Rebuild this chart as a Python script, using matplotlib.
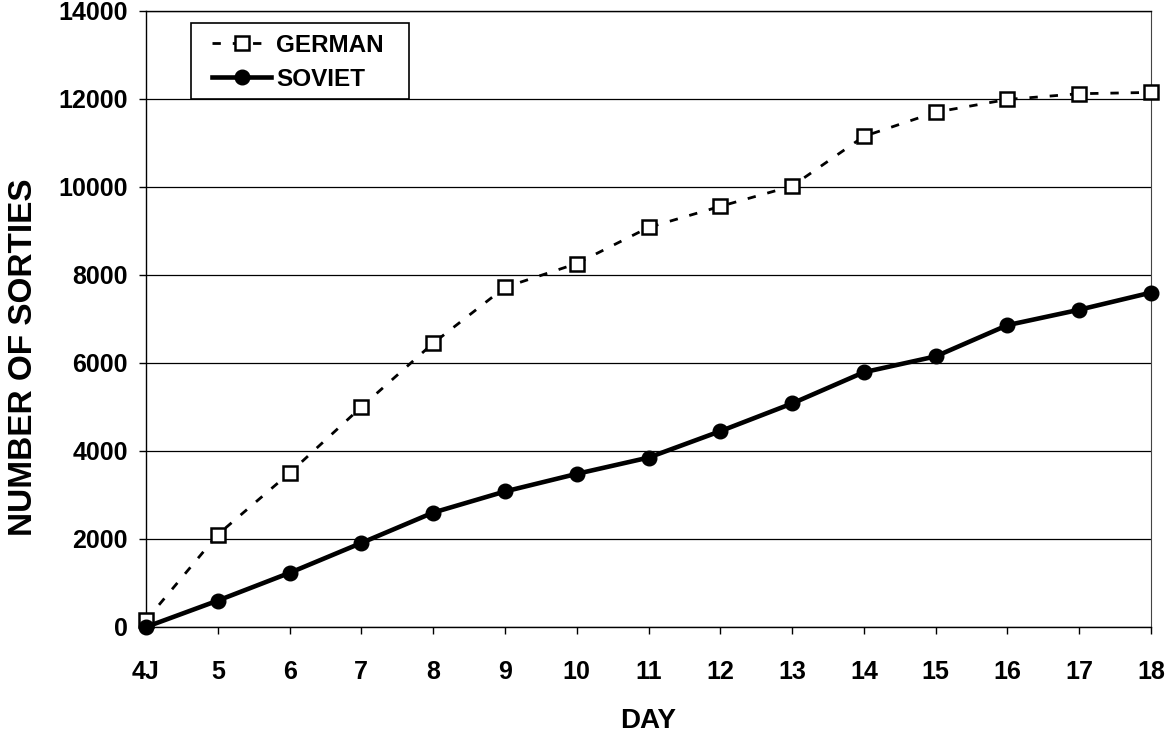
import matplotlib
matplotlib.use("Agg")
import matplotlib.pyplot as plt
from matplotlib.patches import Rectangle

days = ["4J", "5", "6", "7", "8", "9", "10", "11", "12", "13", "14", "15", "16", "17", "18"]
german = [150, 2100, 3500, 5000, 6450, 7720, 8260, 9080, 9560, 10020, 11150, 11700, 11990, 12120, 12150]
soviet = [0, 600, 1230, 1910, 2600, 3080, 3480, 3850, 4450, 5080, 5790, 6150, 6860, 7210, 7600]
yticks = [0, 2000, 4000, 6000, 8000, 10000, 12000, 14000]

plt.rcParams['font.family'] = ['Liberation Sans', 'DejaVu Sans']
plt.rcParams['font.weight'] = 'bold'

fig = plt.figure(figsize=(11.69, 7.38), dpi=100)
ax = fig.add_axes([146/1169, 111/738, 1005/1169, 616/738])

x = list(range(len(days)))
ax.plot(x, german, color='black', linestyle=(0, (3, 4.3)), linewidth=2,
        marker='s', markersize=9.5, markerfacecolor='white',
        markeredgecolor='black', markeredgewidth=1.8, label='GERMAN', clip_on=False, zorder=3)
ax.plot(x, soviet, color='black', linestyle='-', linewidth=3.3,
        marker='o', markersize=10.5, markerfacecolor='black',
        markeredgecolor='black', label='SOVIET', clip_on=False, zorder=4)

ax.set_xlim(0, len(days) - 1)
ax.set_ylim(0, 14000)
ax.set_xticks(x)
ax.set_xticklabels(days)
ax.set_yticks(yticks)
ax.set_yticklabels([str(v) for v in yticks])
ax.tick_params(axis='both', labelsize=18, length=5, width=1, color='black', direction='out')
ax.tick_params(axis='x', pad=19)
ax.tick_params(axis='y', pad=8)
for lbl in ax.get_xticklabels() + ax.get_yticklabels():
    lbl.set_fontweight('bold')

ax.yaxis.grid(True, color='black', linewidth=0.9)
ax.set_axisbelow(True)
for s in ax.spines.values():
    s.set_color('black')
    s.set_linewidth(1)
ax.spines['right'].set_linewidth(0.8)
ax.spines['right'].set_color('#444444')

ax.set_xlabel('DAY', fontsize=20, fontweight='bold')
ax.xaxis.label.set_va('center')
ax.xaxis.set_label_coords(0.5, -0.153)
ax.set_ylabel('NUMBER OF SORTIES', fontsize=24, fontweight='bold')
ax.yaxis.label.set_va('center')
ax.yaxis.set_label_coords(-0.122, 0.438)

# legend box
box = Rectangle((0.0445, 0.8567), 0.262 - 0.0445, 0.980 - 0.8567, transform=ax.transAxes,
                facecolor='white', edgecolor='black', linewidth=1.2, zorder=5)
ax.add_patch(box)
leg = ax.legend(loc='upper left', bbox_to_anchor=(0.0655, 0.963), borderaxespad=0,
                fontsize=17.5, frameon=False, borderpad=0,
                handlelength=2.45, handletextpad=0.2, labelspacing=0.45)
leg.set_zorder(6)
for t in leg.get_texts():
    t.set_fontweight('bold')

fig.savefig('out.png', dpi=100, facecolor='white')
